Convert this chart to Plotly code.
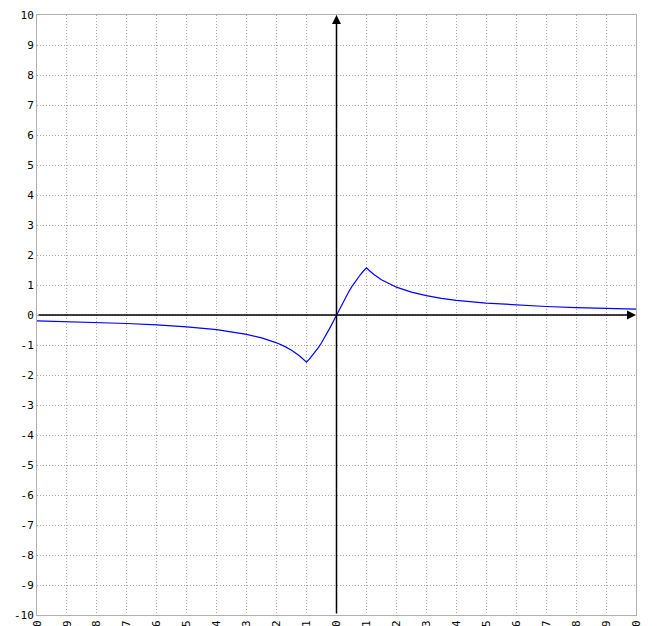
import plotly.graph_objects as go

# curve points (odd around 0, sharp corners at x = +-1)
x_right = [0, 0.1, 0.2, 0.3, 0.4, 0.5, 0.6, 0.7, 0.8, 0.9, 1,
           1.1, 1.25, 1.5, 1.75, 2, 2.5, 3, 3.5, 4, 5, 6, 7, 8, 9, 10]
y_right = [0, 0.199, 0.395, 0.583, 0.761, 0.927, 1.081, 1.222, 1.350, 1.466, 1.571,
           1.476, 1.349, 1.176, 1.038, 0.927, 0.761, 0.644, 0.557, 0.490, 0.395, 0.330,
           0.284, 0.249, 0.221, 0.199]

x_vals = [-v for v in x_right[::-1]] + x_right[1:]
y_vals = [-v for v in y_right[::-1]] + y_right[1:]

tick_vals = list(range(-10, 11))
tick_text = [str(v) for v in tick_vals]

FONT = "DejaVu Sans Mono, monospace"
GRID = "#a8a8a8"
FRAME = "#b0b0b0"

fig = go.Figure()

fig.add_trace(go.Scatter(
    x=x_vals,
    y=y_vals,
    mode="lines",
    line=dict(color="#0000ff", width=1.2),
    hoverinfo="skip",
    showlegend=False,
))

# axes with arrow heads
for (x0, y0, x1, y1) in [(-10, 0, 10, 0), (0, -10, 0, 10)]:
    fig.add_annotation(
        x=x1, y=y1, ax=x0, ay=y0,
        xref="x", yref="y", axref="x", ayref="y",
        text="", showarrow=True,
        arrowhead=2, arrowsize=1.2, arrowwidth=1.5, arrowcolor="black",
    )

axis_common = dict(
    range=[-10, 10],
    tickvals=tick_vals,
    ticktext=tick_text,
    showgrid=True,
    gridcolor=GRID,
    griddash="1px,2px",
    gridwidth=1,
    zeroline=False,
    showline=True,
    linecolor=FRAME,
    linewidth=1,
    mirror=True,
    ticks="",
    automargin=False,
    tickfont=dict(family=FONT, size=11, color="black"),
    fixedrange=True,
)

# page body adds an 8px offset, so the figure is sized to keep the plot
# area at 37..636 x 15..615 in the window
fig.update_layout(
    template="none",
    width=656,
    height=618,
    margin=dict(l=29, r=28, t=7, b=11),
    paper_bgcolor="white",
    plot_bgcolor="white",
    xaxis=dict(**axis_common, tickangle=-90),
    yaxis=dict(**axis_common),
    showlegend=False,
)

fig.write_html("out.html")
